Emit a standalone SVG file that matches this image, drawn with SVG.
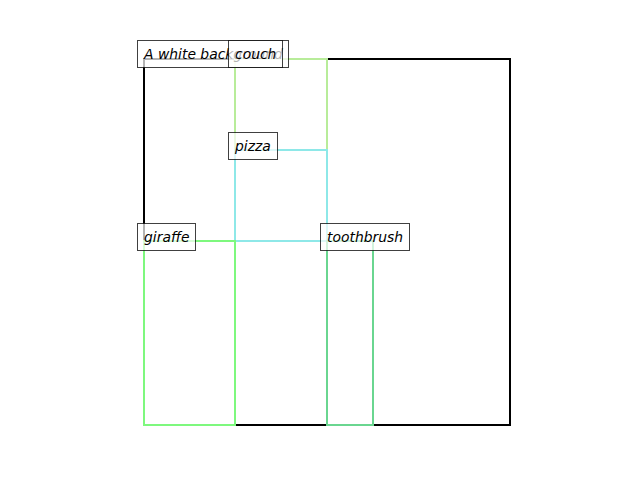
<svg xmlns="http://www.w3.org/2000/svg" width="640" height="480" viewBox="0 0 640 480">
<style>
.r{fill:none;stroke-width:2;stroke-linejoin:miter}
.lb rect{fill:#fff;fill-opacity:0.7;stroke:#000;stroke-opacity:0.75;stroke-width:1}
.lb text{font-family:"DejaVu Sans",sans-serif;font-style:italic;font-size:13.9px;fill:#000}
</style>
<rect width="640" height="480" fill="#fff"/>
<g id="boxes">
<rect id="background" class="r" x="144" y="59" width="366" height="366" stroke="#000"/>
<rect id="couch-box" class="r" x="235" y="59" width="92" height="91" stroke="#b8ec9a"/>
<rect id="pizza-box" class="r" x="235" y="150" width="92" height="91" stroke="#8ee8e8"/>
<rect id="giraffe-box" class="r" x="144" y="241" width="91" height="184" stroke="#7ef87e"/>
<rect id="toothbrush-box" class="r" x="327" y="241" width="46" height="184" stroke="#6ad690"/>
</g>
<g id="label-background" class="lb"><rect x="137.5" y="40.5" width="151" height="27"/><text x="144" y="59">A white background</text></g>
<g id="label-couch" class="lb"><rect x="228.5" y="40.5" width="54" height="27"/><text x="235" y="59">couch</text></g>
<g id="label-pizza" class="lb"><rect x="228.5" y="132.5" width="49" height="27"/><text x="235" y="151">pizza</text></g>
<g id="label-giraffe" class="lb"><rect x="137.5" y="223.5" width="58" height="27"/><text x="144" y="242">giraffe</text></g>
<g id="label-toothbrush" class="lb"><rect x="320.5" y="223.5" width="89" height="27"/><text x="327" y="242">toothbrush</text></g>
</svg>
